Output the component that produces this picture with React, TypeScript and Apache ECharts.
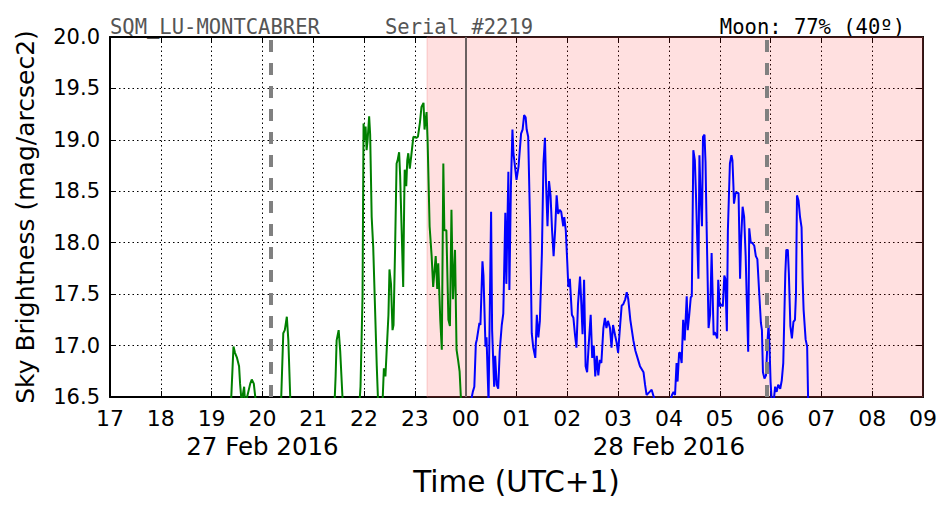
import React, { useEffect, useRef } from "react";
import * as echarts from "echarts";

// Hours since 00:00 on 27 Feb 2016 (UTC+1); 24 = 00:00 on 28 Feb
const greenTimes = [19.36, 19.43, 19.46, 19.5, 19.54, 19.56, 19.59, 19.64, 19.66, 19.76, 19.79, 19.83, 19.87, 19.9,
  20.35, 20.37, 20.41, 20.44, 20.48, 20.51, 20.55, 20.6,
  21.4, 21.44, 21.46, 21.5, 21.53, 21.58, 21.62,
  21.88, 21.93, 21.97, 21.99, 22.01, 22.03, 22.05, 22.07, 22.1, 22.12, 22.15, 22.18, 22.25, 22.28,
  22.36, 22.39, 22.42, 22.48, 22.5, 22.53, 22.56, 22.58, 22.61, 22.64, 22.66, 22.69, 22.71, 22.74, 22.77, 22.79, 22.8,
  22.83, 22.85, 22.87, 22.9, 22.93, 22.97, 23.03, 23.06, 23.1, 23.13, 23.17, 23.19, 23.23, 23.25, 23.29, 23.33, 23.36,
  23.41, 23.44, 23.46, 23.5, 23.53, 23.56, 23.58, 23.62, 23.66, 23.69, 23.72, 23.75, 23.79, 23.82, 23.85, 23.88, 23.91, 23.95];
const greenValues = [16.2, 16.99, 16.93, 16.88, 16.8, 16.63, 16.45, 16.6, 16.42, 16.63, 16.67, 16.63, 16.45, 16.2,
  16.2, 16.5, 17.12, 17.15, 17.28, 17.05, 16.45, 16.2,
  16.2, 16.7, 17.05, 17.15, 16.95, 16.45, 16.2,
  16.2, 16.6, 17.48, 19.16, 19.0, 19.13, 18.9, 19.0, 19.23, 19.05, 18.25, 17.96, 16.8, 16.4,
  16.4, 16.78, 16.7, 17.3, 17.74, 17.6, 17.15, 17.2, 17.93, 18.77, 18.8, 18.88, 18.65, 18.12, 17.57, 18.4, 18.71,
  18.55, 18.8, 18.87, 18.72, 18.85, 19.03, 19.02, 19.03, 19.17, 19.32, 19.36, 19.1, 19.27, 19.0, 18.16, 17.87, 17.57,
  17.87, 17.55, 17.8, 17.25, 16.96, 18.77, 18.12, 18.12, 17.25, 17.19, 18.32, 17.45, 17.93, 16.96, 16.86, 16.75, 16.45, 16.2];

const blueTimes = [24.08, 24.12, 24.14, 24.17, 24.2, 24.22, 24.27, 24.29, 24.33, 24.35, 24.39, 24.41, 24.45, 24.5, 24.52,
  24.56, 24.58, 24.61, 24.64, 24.67, 24.71, 24.74, 24.78, 24.8, 24.84, 24.86, 24.89, 24.92, 24.94, 25.0, 25.04, 25.09,
  25.12, 25.15, 25.18, 25.2, 25.23, 25.27, 25.3, 25.33, 25.37, 25.4, 25.43, 25.46, 25.5, 25.53, 25.56, 25.58, 25.61,
  25.64, 25.67, 25.7, 25.73, 25.76, 25.79, 25.82, 25.85, 25.88, 25.92, 25.94, 25.97, 26.0, 26.02, 26.05, 26.09, 26.12,
  26.15, 26.18, 26.21, 26.25, 26.27, 26.3, 26.33, 26.36, 26.39, 26.42, 26.46, 26.49, 26.52, 26.55, 26.58, 26.61, 26.64,
  26.67, 26.71, 26.74, 26.77, 26.8, 26.84, 26.87, 26.9, 26.94, 26.97, 27.0, 27.04, 27.07, 27.1, 27.14, 27.17, 27.2,
  27.24, 27.3, 27.34, 27.37, 27.43, 27.5, 27.53, 27.56, 27.62, 27.66, 27.69, 27.73, 27.78,
  27.98, 28.02, 28.06, 28.09, 28.12, 28.15, 28.17, 28.2, 28.22, 28.25, 28.28, 28.31, 28.35, 28.37, 28.4, 28.43, 28.45,
  28.48, 28.51, 28.53, 28.55, 28.58, 28.6, 28.62, 28.65, 28.67, 28.7, 28.72, 28.74, 28.78, 28.81, 28.84, 28.86, 28.88,
  28.9, 28.93, 28.95, 28.97, 29.0, 29.03, 29.06, 29.09, 29.11, 29.14, 29.16, 29.18, 29.2, 29.23, 29.25, 29.27, 29.28,
  29.31, 29.34, 29.37, 29.4, 29.42, 29.45, 29.48, 29.51, 29.53, 29.56, 29.58, 29.61, 29.64, 29.68, 29.71, 29.74, 29.78,
  29.81, 29.83, 29.85, 29.88, 29.91, 29.94, 29.96, 29.98, 30.0, 30.03, 30.06, 30.09, 30.12, 30.15, 30.19, 30.22, 30.25,
  30.29, 30.31, 30.34, 30.36, 30.39, 30.42, 30.45, 30.48, 30.5, 30.52, 30.55, 30.58, 30.61, 30.63, 30.65, 30.69, 30.72,
  30.74, 30.78];
const blueValues = [16.2, 16.5, 16.55, 16.6, 17.02, 17.06, 17.22, 17.2, 17.82, 17.68, 16.99, 17.08, 16.45, 18.3, 17.15,
  16.6, 16.9, 16.62, 16.58, 16.95, 17.2, 17.31, 18.29, 17.6, 18.69, 17.54, 18.55, 19.1, 18.87, 18.61, 18.74, 19.06,
  19.1, 19.24, 19.22, 19.1, 19.03, 18.12, 17.12, 16.98, 16.88, 17.3, 17.08, 17.24, 17.9, 18.77, 19.02, 18.6, 18.16,
  18.6, 18.46, 18.12, 17.87, 18.12, 18.46, 18.28, 18.32, 18.3, 18.16, 18.25, 18.12, 17.8, 17.57, 17.65, 17.3, 17.27,
  17.11, 16.98, 17.4, 17.67, 17.47, 17.11, 17.64, 16.8, 16.74, 17.0, 17.3, 16.88, 17.0, 16.7, 16.9, 16.71, 16.86,
  16.83, 17.17, 17.27, 17.17, 17.24, 17.17, 16.98, 17.2, 17.1, 17.03, 16.93, 17.2, 17.39, 17.4, 17.45, 17.52, 17.45,
  17.25, 17.05, 16.95, 16.9, 16.8, 16.74, 16.62, 16.52, 16.55, 16.57, 16.52, 16.45, 16.2,
  16.2, 16.45, 16.52, 16.55, 16.52, 16.83, 16.65, 16.93, 16.93, 16.83, 17.25, 17.05, 17.48, 17.15, 17.3, 17.47, 17.48,
  18.9, 18.8, 18.5, 18.15, 17.65, 18.85, 18.5, 18.16, 19.03, 19.05, 18.78, 18.2, 17.17, 17.3, 17.9, 17.5, 17.1,
  17.13, 17.1, 17.07, 17.64, 17.38, 17.4, 17.38, 17.68, 17.65, 17.14, 18.12, 18.45, 18.77, 18.85, 18.8, 18.54, 18.38,
  18.48, 18.49, 18.48, 17.65, 18.02, 18.35, 18.25, 17.87, 17.48, 16.94, 18.14, 18.0, 18.0, 17.97, 17.87, 17.84, 17.48,
  17.22, 17.15, 16.74, 16.68, 16.71, 17.04, 17.2, 16.98, 16.65, 16.4, 16.45, 16.6, 16.55, 16.62, 16.58, 16.66, 16.83,
  17.7, 17.93, 17.93, 17.7, 17.19, 17.07, 17.23, 17.25, 17.5, 18.46, 18.41, 18.25, 18.15, 17.65, 17.35, 17.06, 16.99,
  16.45, 16.2];

const xTicks = [17, 18, 19, 20, 21, 22, 23, 24, 25, 26, 27, 28, 29, 30, 31, 32, 33];
const dateLabels: Record<number, string> = { 20: "27 Feb 2016", 28: "28 Feb 2016" };
const moonShadeStart = 23.24;
const twilightLines = [20.17, 29.93];
const midnight = 24;

const FONT = "DejaVu Sans";

export default function App() {
  const ref = useRef<HTMLDivElement>(null);
  useEffect(() => {
    if (!ref.current) return;
    const chart = echarts.init(ref.current, undefined, { renderer: "svg" });
    const xMin = xTicks[0];
    const xMax = xTicks[xTicks.length - 1];
    const grid = { type: [1.5, 3] as any, color: "#000", width: 1 };
    const baseX = {
      type: "value" as const, min: xMin, max: xMax, interval: 1,
      axisLine: { show: true, lineStyle: { color: "#000", width: 2 } },
      axisTick: { show: true, inside: true, length: 6, lineStyle: { color: "#000", width: 1 } },
    };
    const baseY = {
      type: "value" as const, min: 16.5, max: 20, interval: 0.5,
      axisLine: { show: true, lineStyle: { color: "#000", width: 2 } },
      axisTick: { show: true, inside: true, length: 6, lineStyle: { color: "#000", width: 1 } },
    };
    chart.setOption({
      animation: false,
      backgroundColor: "#fff",
      grid: { left: 110, right: 29, top: 37, bottom: 115, containLabel: false },
      xAxis: [
        {
          ...baseX, position: "bottom",
          splitLine: { show: true, lineStyle: grid },
          axisLabel: {
            margin: 9, color: "#000", fontFamily: FONT, fontSize: 22, lineHeight: 25,
            formatter: (v: number) => {
              const s = String(Math.round(v) % 24).padStart(2, "0");
              const d = dateLabels[Math.round(v)];
              return d ? `${s}\n{d|${d}}` : s;
            },
            rich: { d: { fontFamily: FONT, fontSize: 24.5, lineHeight: 31, color: "#000" } },
          },
          name: "Time (UTC+1)", nameLocation: "middle", nameGap: 70,
          nameTextStyle: { fontFamily: FONT, fontSize: 29.5, color: "#000" },
        },
        { ...baseX, position: "top", axisLabel: { show: false }, splitLine: { show: false } },
      ],
      yAxis: [
        {
          ...baseY, position: "left",
          splitLine: { show: true, lineStyle: grid },
          axisLabel: {
            margin: 10, color: "#000", fontFamily: FONT, fontSize: 21,
            formatter: (v: number) => v.toFixed(1),
          },
          name: "Sky Brightness (mag/arcsec2)", nameLocation: "middle", nameGap: 72,
          nameTextStyle: { fontFamily: FONT, fontSize: 25, color: "#000" },
        },
        { ...baseY, position: "right", axisLabel: { show: false }, splitLine: { show: false } },
      ],
      series: [
        {
          type: "line", data: [], z: 1, silent: true,
          markArea: {
            silent: true,
            itemStyle: { color: "rgba(255,0,0,0.12)", borderColor: "rgba(240,120,120,0.35)", borderWidth: 1 },
            data: [[{ xAxis: moonShadeStart }, { xAxis: xMax }]],
          },
        },
        {
          type: "line", data: [], z: 2, silent: true,
          markLine: {
            silent: true, symbol: ["none", "none"], label: { show: false },
            data: [
              ...twilightLines.map((t) => ({ xAxis: t, lineStyle: { color: "#808080", width: 4, type: [12, 11] as any } })),
              { xAxis: midnight, lineStyle: { color: "#6a6060", width: 2, type: "solid" } },
            ],
          },
        },
        {
          type: "line", z: 3, showSymbol: false, symbol: "none", clip: true,
          lineStyle: { color: "#008000", width: 2 },
          data: greenTimes.map((t, i) => [t, greenValues[i]]),
        },
        {
          type: "line", z: 3, showSymbol: false, symbol: "none", clip: true,
          lineStyle: { color: "#0000ff", width: 2 },
          data: blueTimes.map((t, i) => [t, blueValues[i]]),
        },
      ],
      graphic: [
        { type: "text", x: 110, y: 27, style: { text: "SQM_LU-MONTCABRER", fontFamily: "DejaVu Sans Mono", fontSize: 20.5, fill: "#555", verticalAlign: "middle", align: "left" } },
        { type: "text", x: 385, y: 27, style: { text: "Serial #2219", fontFamily: "DejaVu Sans Mono", fontSize: 20.5, fill: "#555", verticalAlign: "middle", align: "left" } },
        { type: "text", x: 905, y: 27, style: { text: "Moon: 77% (40º)", fontFamily: "DejaVu Sans Mono", fontSize: 20.5, fill: "#000", verticalAlign: "middle", align: "right" } },
      ],
    });
    return () => chart.dispose();
  }, []);
  return <div ref={ref} style={{ position: "absolute", left: 0, top: 0, width: 952, height: 512 }} />;
}
